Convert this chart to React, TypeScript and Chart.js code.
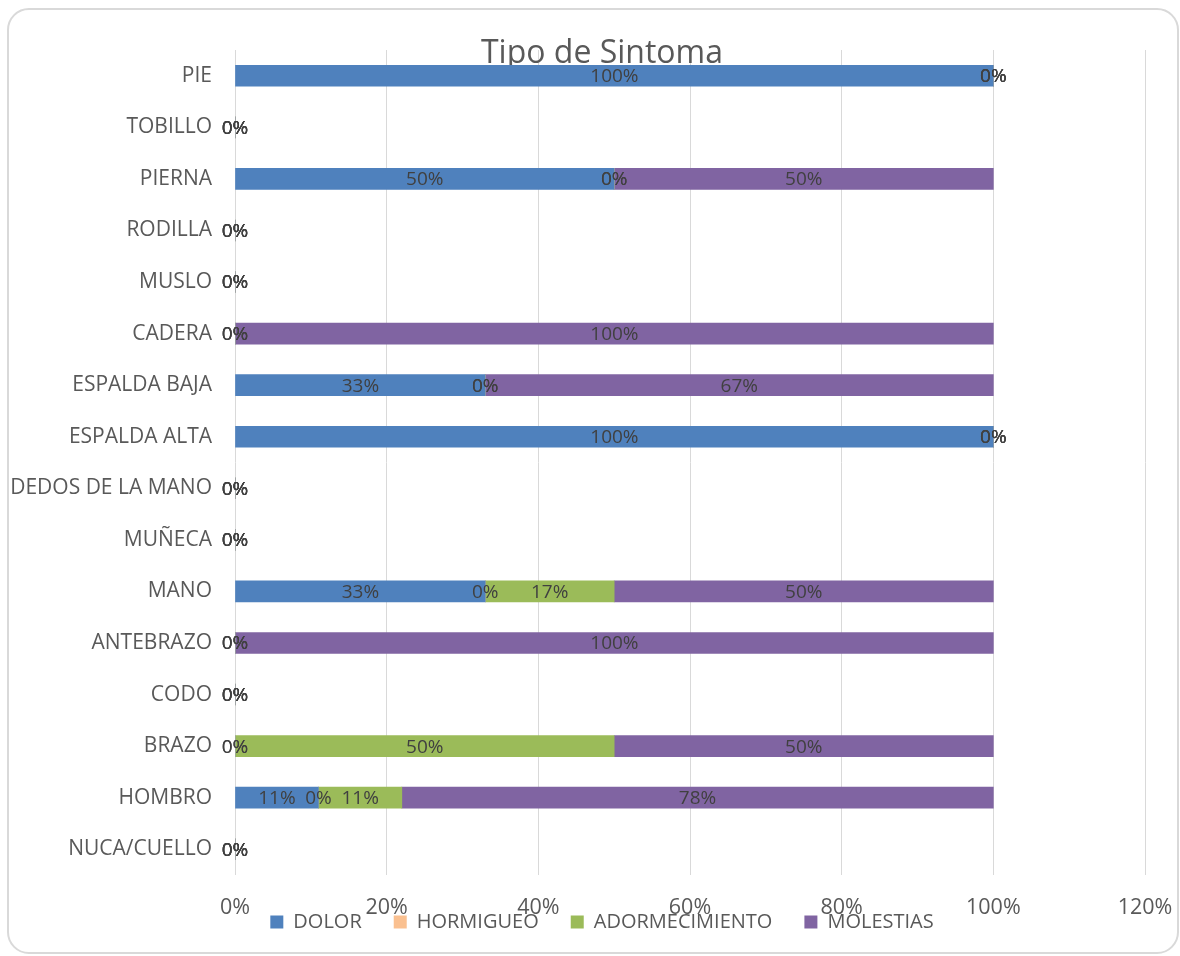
import React, { useEffect, useRef } from "react";
import { Chart, registerables } from "chart.js";

Chart.register(...registerables);

const chartTitle = "Tipo de Sintoma";
const categories = [
  "PIE",
  "TOBILLO",
  "PIERNA",
  "RODILLA",
  "MUSLO",
  "CADERA",
  "ESPALDA BAJA",
  "ESPALDA ALTA",
  "DEDOS DE LA MANO",
  "MUÑECA",
  "MANO",
  "ANTEBRAZO",
  "CODO",
  "BRAZO",
  "HOMBRO",
  "NUCA/CUELLO",
];
const seriesNames = ["DOLOR", "HORMIGUEO", "ADORMECIMIENTO", "MOLESTIAS"];
const dolor = [100, 0, 50, 0, 0, 0, 33, 100, 0, 0, 33, 0, 0, 0, 11, 0];
const hormigueo = [0, 0, 0, 0, 0, 0, 0, 0, 0, 0, 0, 0, 0, 0, 0, 0];
const adormecimiento = [0, 0, 0, 0, 0, 0, 0, 0, 0, 0, 17, 0, 0, 50, 11, 0];
const molestias = [0, 0, 50, 0, 0, 100, 67, 0, 0, 0, 50, 100, 0, 50, 78, 0];
const xTickValues = [0, 20, 40, 60, 80, 100, 120];
const seriesColors = ["#4f81bd", "#fac090", "#9bbb59", "#8064a2"];

const FONT = "'Open Sans', 'Noto Sans', sans-serif";

const dataLabelPlugin = {
  id: "stackLabels",
  afterDatasetsDraw(chart: any) {
    const ctx = chart.ctx;
    ctx.save();
    ctx.font = `19px ${FONT}`;
    ctx.fillStyle = "#404040";
    ctx.textAlign = "center";
    ctx.textBaseline = "middle";
    chart.data.datasets.forEach((ds: any, di: number) => {
      const meta = chart.getDatasetMeta(di);
      meta.data.forEach((el: any, i: number) => {
        const p = el.getProps(["x", "base", "y"], true);
        const cx = (p.x + p.base) / 2;
        ctx.fillText(`${Math.round(ds.data[i])}%`, cx, p.y + 1);
      });
    });
    ctx.restore();
  },
};

export default function App() {
  const canvasRef = useRef<HTMLCanvasElement | null>(null);

  useEffect(() => {
    if (!canvasRef.current) return;
    const values = [dolor, hormigueo, adormecimiento, molestias];
    const chart = new Chart(canvasRef.current, {
      type: "bar",
      data: {
        labels: categories,
        datasets: seriesNames.map((name, i) => ({
          label: name,
          data: values[i],
          backgroundColor: seriesColors[i],
          borderWidth: 0,
          barThickness: 21,
        })),
      },
      options: {
        indexAxis: "y",
        animation: false,
        responsive: true,
        maintainAspectRatio: false,
        layout: { padding: { left: 50, right: 32, top: 0, bottom: 10 } },
        scales: {
          x: {
            stacked: true,
            min: 0,
            max: 120,
            afterBuildTicks: (scale: any) => {
              scale.ticks = xTickValues.map((v) => ({ value: v }));
            },
            afterFit: (scale: any) => {
              scale.height = 5;
              scale.paddingLeft = 0;
              scale.paddingRight = 0;
              scale._computeLabelArea = () => undefined;
            },
            grid: { color: "#d9d9d9", lineWidth: 1, drawTicks: false },
            border: { display: false },
            ticks: {
              padding: 20,
              color: "#595959",
              font: { family: FONT, size: 21.5 },
              callback: (v: any) => `${v}%`,
            },
          },
          y: {
            stacked: true,
            afterFit: (scale: any) => {
              scale.width = 176;
              scale.paddingTop = 0;
              scale.paddingBottom = 0;
              scale._computeLabelArea = () => undefined;
            },
            grid: { display: false, drawTicks: false },
            border: { display: false },
            ticks: {
              padding: 23,
              color: "#595959",
              font: { family: FONT, size: 21 },
            },
          },
        },
        plugins: {
          title: {
            display: true,
            text: chartTitle,
            color: "#595959",
            font: { family: FONT, size: 32, weight: "normal" },
            padding: { top: 25, bottom: -23.4 },
          },
          legend: {
            display: true,
            position: "bottom",
            labels: {
              boxWidth: 13,
              boxHeight: 13,
              padding: 32,
              color: "#595959",
              font: { family: FONT, size: 20 },
            },
          },
          tooltip: { enabled: false },
        },
      },
      plugins: [dataLabelPlugin],
    } as any);
    let alive = true;
    if ((document as any).fonts && (document as any).fonts.ready) {
      (document as any).fonts.ready.then(() => {
        if (alive) chart.update();
      });
    }
    return () => {
      alive = false;
      chart.destroy();
    };
  }, []);

  return (
    <div
      style={{
        position: "fixed",
        left: 7,
        top: 8,
        width: 1172,
        height: 946,
        border: "2px solid #d9d9d9",
        borderRadius: 22,
        boxSizing: "border-box",
        background: "#ffffff",
        overflow: "hidden",
      }}
    >
      <div style={{ position: "relative", width: 1168, height: 942 }}>
        <canvas ref={canvasRef} />
      </div>
    </div>
  );
}
